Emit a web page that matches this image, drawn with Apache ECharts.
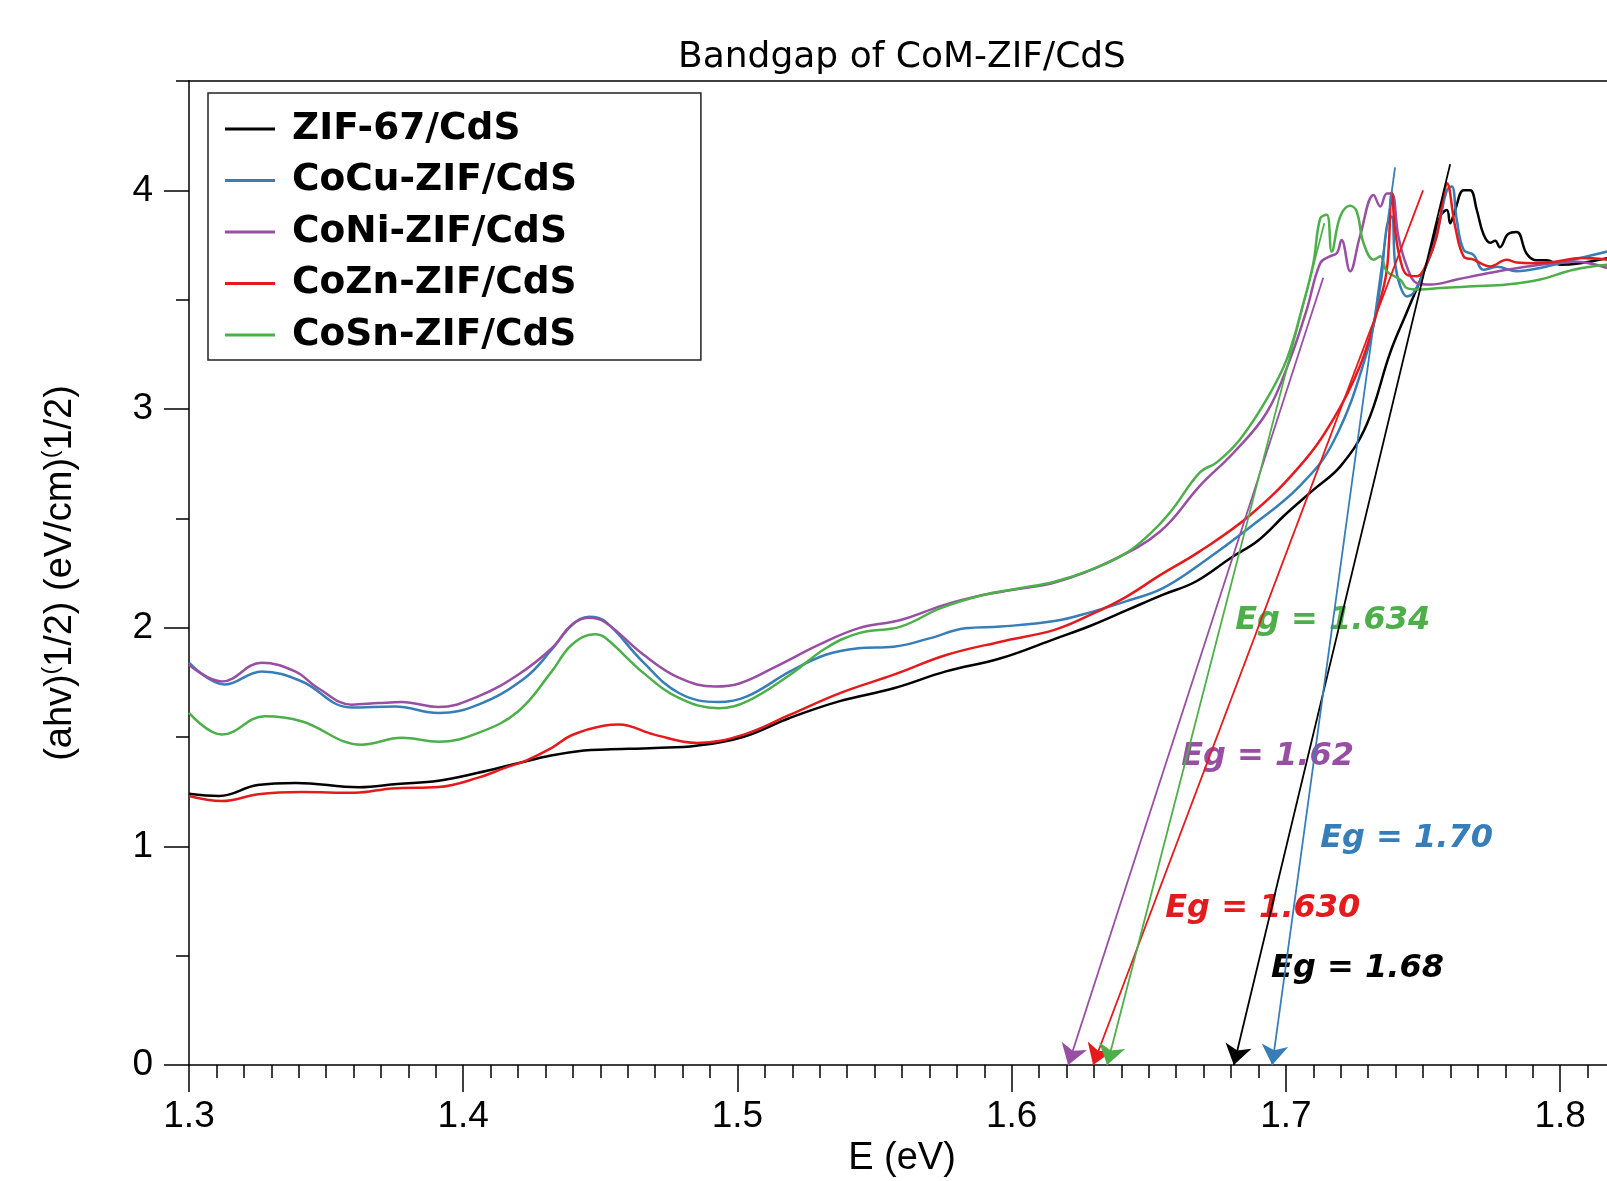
<!DOCTYPE html>
<html>
<head>
<meta charset="utf-8">
<title>Bandgap of CoM-ZIF/CdS</title>
<script src="https://cdn.jsdelivr.net/npm/echarts@6/dist/echarts.min.js"></script>
<style>
html, body { margin: 0; padding: 0; background: #fff; }
#graph { width: 1607px; height: 1181px; }
</style>
</head>
<body>
<div id="graph"></div>
<script>
// series names and colours (same order as the legend)
var names = ['ZIF-67/CdS', 'CoCu-ZIF/CdS', 'CoNi-ZIF/CdS', 'CoZn-ZIF/CdS', 'CoSn-ZIF/CdS'];
var colors = ['#000000', '#377eb8', '#984ea3', '#e41a1c', '#4daf4a'];

// [E (eV), (ahv)^(1/2)]
var zif67 = [[1.300,1.24],[1.311,1.23],[1.325,1.28],[1.339,1.29],[1.362,1.27],[1.376,1.285],[1.391,1.30],[1.405,1.335],[1.420,1.38],[1.432,1.415],
  [1.444,1.438],[1.452,1.443],[1.470,1.45],[1.485,1.46],[1.502,1.50],[1.519,1.587],[1.537,1.663],[1.557,1.723],[1.576,1.80],[1.596,1.86],
  [1.616,1.95],[1.629,2.01],[1.642,2.08],[1.655,2.15],[1.667,2.21],[1.680,2.32],[1.690,2.40],[1.700,2.52],[1.710,2.63],[1.720,2.74],
  [1.7295,2.93],[1.738,3.257],[1.744,3.44],[1.749,3.59],[1.7526,3.71],[1.7562,3.88],[1.7587,3.91],[1.7599,3.85],[1.7617,3.91],[1.7648,4.00],
  [1.7672,4.00],[1.7696,3.91],[1.772,3.80],[1.7745,3.76],[1.7763,3.77],[1.778,3.74],[1.781,3.80],[1.7842,3.81],[1.7878,3.71],[1.7915,3.68],
  [1.795,3.68],[1.800,3.66],[1.8073,3.667],[1.8172,3.69]];

var coCu = [[1.300,1.84],[1.313,1.74],[1.3265,1.80],[1.341,1.755],[1.359,1.635],[1.375,1.64],[1.391,1.61],[1.4055,1.648],[1.4225,1.77],[1.4323,1.90],
  [1.4395,2.01],[1.446,2.05],[1.4517,2.03],[1.4658,1.84],[1.4788,1.70],[1.4931,1.66],[1.5035,1.686],[1.5192,1.80],[1.5322,1.876],[1.544,1.906],
  [1.557,1.913],[1.570,1.951],[1.583,1.997],[1.596,2.005],[1.6156,2.03],[1.6286,2.07],[1.6416,2.12],[1.655,2.18],[1.6687,2.29],[1.687,2.46],
  [1.7052,2.65],[1.7173,2.85],[1.7295,3.257],[1.7344,3.56],[1.7368,3.835],[1.7386,3.88],[1.7398,3.667],[1.7417,3.561],[1.7441,3.515],[1.7465,3.531],
  [1.7501,3.622],[1.7538,3.744],[1.7562,3.865],[1.7587,4.00],[1.7605,4.017],[1.7623,3.865],[1.7648,3.728],[1.7684,3.705],[1.772,3.637],[1.777,3.65],
  [1.7842,3.63],[1.7927,3.645],[1.8049,3.683],[1.8172,3.72]];

var coNi = [[1.300,1.83],[1.312,1.754],[1.3265,1.84],[1.3387,1.80],[1.347,1.724],[1.3593,1.648],[1.369,1.655],[1.3776,1.66],[1.391,1.637],[1.4055,1.686],
  [1.420,1.785],[1.4323,1.906],[1.4395,2.012],[1.4456,2.045],[1.4517,2.025],[1.4658,1.876],[1.4788,1.77],[1.4918,1.731],[1.501,1.746],[1.514,1.822],
  [1.5296,1.921],[1.544,1.997],[1.5595,2.035],[1.5752,2.103],[1.5895,2.149],[1.600,2.172],[1.6166,2.21],[1.6353,2.30],[1.6541,2.44],[1.6687,2.65],
  [1.6809,2.80],[1.693,2.984],[1.7015,3.227],[1.7076,3.455],[1.7125,3.667],[1.716,3.698],[1.7186,3.713],[1.7203,3.773],[1.7234,3.63],[1.727,3.79],
  [1.732,3.979],[1.7344,3.926],[1.7368,3.986],[1.7386,3.986],[1.741,3.79],[1.7441,3.652],[1.7477,3.576],[1.7526,3.569],[1.7623,3.592],[1.7708,3.614],
  [1.7805,3.637],[1.7927,3.66],[1.8049,3.675],[1.8172,3.645]];

var coZn = [[1.300,1.23],[1.312,1.207],[1.3253,1.238],[1.341,1.248],[1.3605,1.245],[1.374,1.265],[1.391,1.271],[1.4055,1.314],[1.4152,1.359],[1.4225,1.39],
  [1.4323,1.45],[1.4395,1.508],[1.4517,1.553],[1.4567,1.557],[1.4697,1.511],[1.4853,1.473],[1.5023,1.511],[1.5192,1.602],[1.5374,1.701],[1.557,1.785],
  [1.5764,1.876],[1.596,1.936],[1.6156,1.99],[1.6286,2.058],[1.6416,2.14],[1.6541,2.24],[1.6687,2.35],[1.687,2.515],[1.7052,2.741],[1.7173,2.954],
  [1.727,3.197],[1.7331,3.44],[1.7368,3.637],[1.7386,3.99],[1.7398,3.819],[1.7417,3.683],[1.7441,3.614],[1.7477,3.607],[1.7514,3.667],[1.755,3.79],
  [1.7574,3.971],[1.7587,4.032],[1.7617,3.835],[1.7648,3.698],[1.7684,3.683],[1.7745,3.652],[1.7805,3.683],[1.7842,3.67],[1.7903,3.667],[1.7988,3.675],
  [1.8073,3.69],[1.8172,3.683]];

var coSn = [[1.300,1.61],[1.312,1.511],[1.3277,1.595],[1.341,1.572],[1.363,1.465],[1.3776,1.496],[1.391,1.478],[1.4055,1.519],[1.420,1.617],[1.4323,1.80],
  [1.4395,1.921],[1.448,1.97],[1.4517,1.955],[1.4658,1.792],[1.4788,1.678],[1.4931,1.632],[1.5035,1.663],[1.5192,1.785],[1.5322,1.906],[1.544,1.974],
  [1.5595,2.005],[1.5739,2.088],[1.5895,2.149],[1.6025,2.179],[1.6156,2.21],[1.6286,2.263],[1.6416,2.34],[1.6505,2.43],[1.6578,2.528],[1.6687,2.711],
  [1.6748,2.756],[1.6833,2.862],[1.693,3.045],[1.7003,3.227],[1.7064,3.485],[1.710,3.667],[1.7125,3.872],[1.7149,3.888],[1.7167,3.72],[1.7198,3.88],
  [1.7234,3.929],[1.7258,3.903],[1.7283,3.759],[1.732,3.683],[1.7344,3.698],[1.7368,3.63],[1.7418,3.59],[1.7441,3.553],[1.749,3.546],[1.7563,3.553],
  [1.7684,3.561],[1.7805,3.569],[1.7927,3.592],[1.8049,3.637],[1.8172,3.66]];

var curves = [zif67, coCu, coNi, coZn, coSn];

// tangent lines: upper end [E, y] and where the arrow meets the E axis
var tangentTop = [[1.7599,4.12], [1.7398,4.105], [1.7136,3.6], [1.750,4.0], [1.714,3.85]];
var tangentEg = [1.681, 1.695, 1.6206, 1.6297, 1.6348];

// Eg annotations: text and [E, y] of the left end of the text
var egText = ['Eg = 1.68', 'Eg = 1.70', 'Eg = 1.62', 'Eg = 1.630', 'Eg = 1.634'];
var egPos = [[1.6946,0.442], [1.7125,1.034], [1.6618,1.408], [1.656,0.715], [1.6815,2.032]];

var myChart = echarts.init(document.getElementById('graph'));

var series = [];
for (var i = 0; i < names.length; i++) {
    series.push({
        name: names[i],
        type: 'line',
        data: curves[i],
        symbol: 'none',
        smooth: 0.4,
        lineStyle: { width: 2.5, color: colors[i] },
        itemStyle: { color: colors[i] },
        emphasis: { disabled: true },
        markLine: {
            silent: true,
            symbol: ['none', 'arrow'],
            symbolSize: 20,
            label: { show: false },
            emphasis: { disabled: true },
            lineStyle: { type: 'solid', width: 1.8, color: colors[i] },
            data: [[
                { coord: tangentTop[i] },
                { coord: [tangentEg[i], 0] }
            ]]
        }
    });
}

// the Eg texts
var labelData = [];
for (var i = 0; i < egText.length; i++) {
    labelData.push({
        value: egPos[i],
        label: { formatter: egText[i], color: colors[i] }
    });
}
series.push({
    name: 'Eg',
    type: 'scatter',
    data: labelData,
    symbolSize: 0,
    silent: true,
    itemStyle: { opacity: 1 },
    label: {
        show: true,
        position: 'right',
        distance: 0,
        fontFamily: 'DejaVu Sans',
        fontWeight: 'bold',
        fontStyle: 'italic',
        fontSize: 32
    }
});

var tickFont = { fontFamily: 'Liberation Sans', fontSize: 37, color: '#000' };

option = {
    animation: false,
    backgroundColor: '#fff',
    title: {
        text: 'Bandgap of CoM-ZIF/CdS',
        left: 902,
        top: 40,
        padding: 0,
        textAlign: 'center',
        textStyle: { fontFamily: 'DejaVu Sans', fontSize: 36, fontWeight: 'normal', color: '#000' }
    },
    legend: {
        data: names,
        orient: 'vertical',
        left: 208,
        top: 93,
        icon: 'rect',
        itemWidth: 50,
        itemHeight: 3,
        itemGap: 5.5,
        padding: [13, 124, 2, 17],
        borderColor: '#222',
        borderWidth: 1.5,
        backgroundColor: '#fff',
        selectedMode: false,
        textStyle: {
            fontFamily: 'DejaVu Sans', fontWeight: 'bold', fontSize: 37.5, color: '#000',
            lineHeight: 46, padding: [0, 0, 0, 12]
        }
    },
    grid: { left: 189, top: 81, right: -8, bottom: 116, outerBoundsMode: 'none' },
    xAxis: [
        {
            type: 'value', position: 'bottom', min: 1.3, max: 1.82, interval: 0.1,
            axisLine: { lineStyle: { color: '#000', width: 1.5 } },
            axisTick: { length: 27, lineStyle: { color: '#000', width: 1.5 } },
            axisLabel: Object.assign({ margin: 33, showMaxLabel: false }, tickFont),
            splitLine: { show: false },
            name: 'E (eV)', nameLocation: 'middle', nameGap: 74,
            nameTextStyle: { fontFamily: 'Liberation Sans', fontSize: 38, color: '#000' }
        },
        {
            type: 'value', position: 'bottom', min: 1.3, max: 1.82, interval: 0.01,
            axisLine: { show: false },
            axisTick: { length: 13, lineStyle: { color: '#000', width: 1.5 } },
            axisLabel: { show: false },
            splitLine: { show: false }
        },
        {
            type: 'value', position: 'top', min: 1.3, max: 1.82,
            axisLine: { lineStyle: { color: '#000', width: 1.5 } },
            axisTick: { show: false },
            axisLabel: { show: false },
            splitLine: { show: false }
        }
    ],
    yAxis: [
        {
            type: 'value', position: 'left', min: 0, max: 4.5, interval: 1,
            axisLine: { show: true, lineStyle: { color: '#000', width: 1.5 } },
            axisTick: { show: true, length: 25, customValues: [0, 1, 2, 3, 4], lineStyle: { color: '#000', width: 1.5 } },
            axisLabel: Object.assign({ margin: 36, customValues: [0, 1, 2, 3, 4] }, tickFont),
            splitLine: { show: false },
            name: '(ahv){sup|(}1/2) (eV/cm){sup|(}1/2)',
            nameLocation: 'middle', nameGap: 107, nameRotate: 90,
            nameTextStyle: {
                fontFamily: 'Liberation Sans', fontSize: 38, color: '#000', lineHeight: 42,
                rich: { sup: { fontFamily: 'Liberation Sans', fontSize: 22, lineHeight: 42, verticalAlign: 'top', color: '#000' } }
            }
        },
        {
            type: 'value', position: 'left', min: 0, max: 4.5, interval: 0.5,
            axisLine: { show: false },
            axisTick: { show: true, length: 13, lineStyle: { color: '#000', width: 1.5 } },
            axisLabel: { show: false },
            splitLine: { show: false }
        }
    ],
    series: series
};

myChart.setOption(option);
</script>
</body>
</html>
